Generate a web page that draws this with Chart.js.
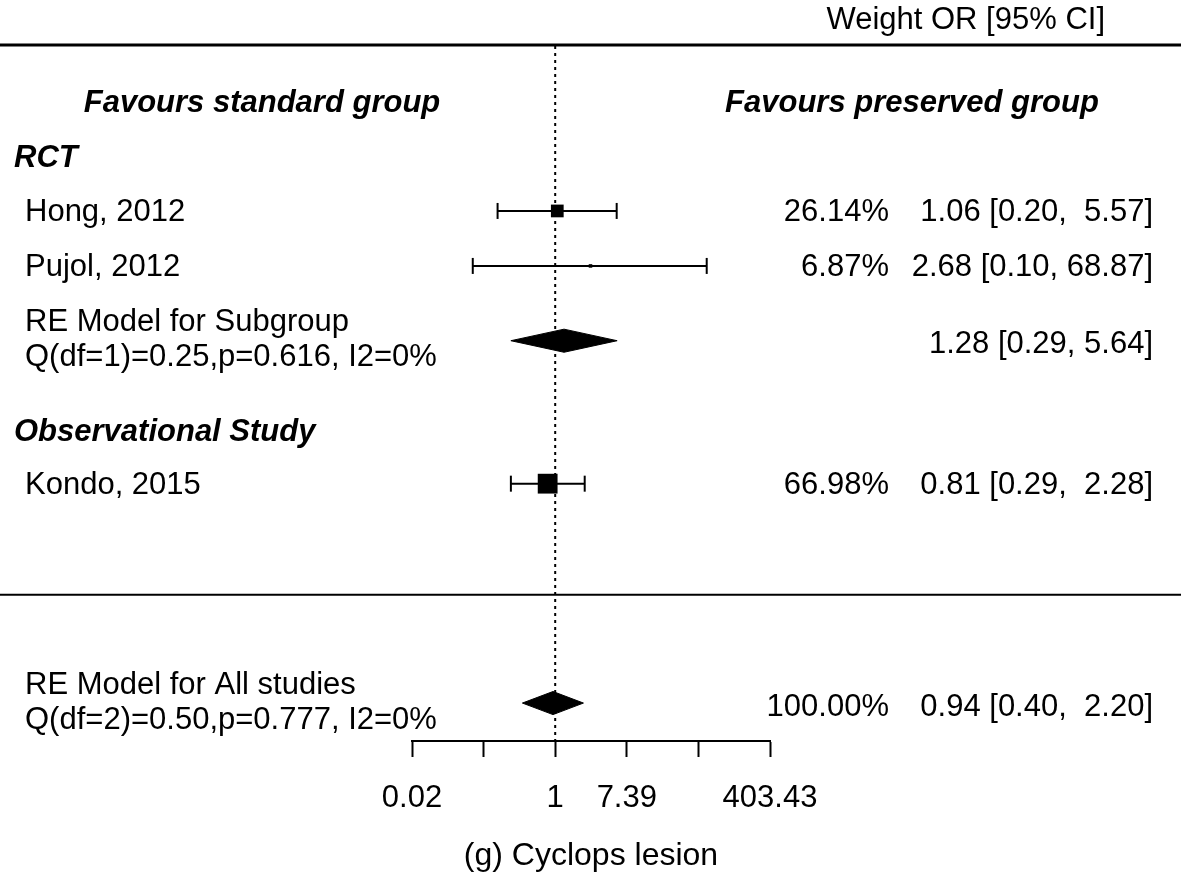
<!DOCTYPE html>
<html>
<head>
<meta charset="utf-8">
<script src="https://cdn.jsdelivr.net/npm/chart.js@4/dist/chart.umd.min.js"></script>
<style>
  body { margin: 0; background: #fff; }
  canvas { display: block; }
</style>
</head>
<body>
<canvas id="forest" width="1181" height="873"></canvas>
<script>
// forest plot — (g) Cyclops lesion, odds ratios on log scale

// individual studies
const studyLabels  = ['Hong, 2012', 'Pujol, 2012', 'Kondo, 2015']
const studyRows    = [3, 4, 7.96]
const studyOR      = [1.06, 2.68, 0.81]
const studyLo      = [0.20, 0.10, 0.29]
const studyHi      = [5.57, 68.87, 2.28]
const studyWeights = ['26.14%', '6.87%', '66.98%']
const studyCI      = ['1.06 [0.20,  5.57]', '2.68 [0.10, 68.87]', '0.81 [0.29,  2.28]']
const studySquare  = [9, 2.5, 14]

// pooled estimates
const poolLabels  = [['RE Model for Subgroup', 'Q(df=1)=0.25,p=0.616, I2=0%'],
                     ['RE Model for All studies', 'Q(df=2)=0.50,p=0.777, I2=0%']]
const poolRows    = [5.36, 11.95]
const poolOR      = [1.28, 0.94]
const poolLo      = [0.29, 0.40]
const poolHi      = [5.64, 2.20]
const poolWeights = ['', '100.00%']
const poolCI      = ['1.28 [0.29, 5.64]', '0.94 [0.40,  2.20]']

// subgroup headings
const groupLabels = ['RCT', 'Observational Study']
const groupRows   = [2, 7]

// x axis (natural log of OR)
const tickValues = [-4, -2, 0, 2, 4, 6]
const tickLabels = ['0.02', '', '1', '7.39', '', '403.43']

const ROW_MAX = 12.64
const SEP_ROWS = [0, 9.98]
const ln = Math.log
const FONT = 'Liberation Sans'
const TXT_DY = 2

Chart.defaults.font.family = FONT
Chart.defaults.color = '#000'

const datasets = []

// CI whiskers
studyRows.forEach((r, i) => {
  datasets.push({
    type: 'line',
    data: [{ x: ln(studyLo[i]), y: r }, { x: ln(studyHi[i]), y: r }],
    borderColor: '#000',
    borderWidth: 2,
    pointStyle: 'line',
    rotation: 90,
    pointRadius: 8,
    pointBorderWidth: 2,
    pointBorderColor: '#000',
  })
})

// squares
datasets.push({
  type: 'scatter',
  data: studyRows.map((r, i) => ({ x: ln(studyOR[i]), y: r })),
  pointStyle: 'rect',
  pointRadius: studySquare,
  backgroundColor: '#000',
  borderColor: '#000',
  borderWidth: 0,
})

// diamonds
poolRows.forEach((r, i) => {
  const h = 0.21
  datasets.push({
    type: 'line',
    data: [
      { x: ln(poolLo[i]), y: r },
      { x: ln(poolOR[i]), y: r - h },
      { x: ln(poolHi[i]), y: r },
      { x: ln(poolOR[i]), y: r + h },
      { x: ln(poolLo[i]), y: r },
    ],
    borderColor: '#000',
    borderWidth: 1,
    backgroundColor: '#000',
    fill: 'shape',
    pointRadius: 0,
    tension: 0,
  })
})

// null line
datasets.push({
  type: 'line',
  data: [{ x: 0, y: 0 }, { x: 0, y: ROW_MAX }],
  borderColor: '#000',
  borderWidth: 2,
  borderDash: [3, 4],
  pointRadius: 0,
})

const textPlugin = {
  id: 'forestText',
  afterDraw(chart) {
    const { ctx, scales: { y } } = chart
    const W = chart.width
    ctx.save()
    ctx.fillStyle = '#000'
    ctx.strokeStyle = '#000'

    // separator lines
    ctx.lineWidth = 3
    ctx.beginPath()
    ctx.moveTo(0, y.getPixelForValue(SEP_ROWS[0]) - 1)
    ctx.lineTo(W, y.getPixelForValue(SEP_ROWS[0]) - 1)
    ctx.stroke()
    ctx.lineWidth = 2
    ctx.beginPath()
    ctx.moveTo(0, y.getPixelForValue(SEP_ROWS[1]))
    ctx.lineTo(W, y.getPixelForValue(SEP_ROWS[1]))
    ctx.stroke()

    ctx.textBaseline = 'middle'
    ctx.font = `31px "${FONT}"`
    ctx.textAlign = 'right'
    ctx.fillText('Weight OR [95% CI]', 1105, 18 + TXT_DY)

    ctx.font = `italic bold 31px "${FONT}"`
    ctx.textAlign = 'center'
    ctx.fillText('Favours standard group', 262, y.getPixelForValue(1) + TXT_DY)
    ctx.fillText('Favours preserved group', 912, y.getPixelForValue(1) + TXT_DY)

    ctx.textAlign = 'left'
    groupLabels.forEach((g, i) => ctx.fillText(g, 14, y.getPixelForValue(groupRows[i]) + TXT_DY))

    ctx.font = `31px "${FONT}"`
    studyLabels.forEach((s, i) => {
      const py = y.getPixelForValue(studyRows[i]) + TXT_DY
      ctx.textAlign = 'left'
      ctx.fillText(s, 25, py)
      ctx.textAlign = 'right'
      ctx.fillText(studyWeights[i], 889, py)
      ctx.fillText(studyCI[i], 1153, py)
    })

    poolLabels.forEach((lines, i) => {
      const py = y.getPixelForValue(poolRows[i]) + TXT_DY
      ctx.textAlign = 'left'
      ctx.fillText(lines[0], 25, py - 20)
      ctx.fillText(lines[1], 25, py + 15)
      ctx.textAlign = 'right'
      ctx.fillText(poolWeights[i], 889, py + 2)
      ctx.fillText(poolCI[i], 1153, py + 2)
    })
    ctx.restore()
  },
}

new Chart(document.getElementById('forest'), {
  data: { datasets },
  options: {
    responsive: false,
    animation: false,
    layout: { padding: { left: 412, right: 411, top: 46, bottom: 0 } },
    plugins: { legend: { display: false }, tooltip: { enabled: false } },
    scales: {
      x: {
        type: 'linear',
        min: -4,
        max: 6,
        afterBuildTicks: axis => { axis.ticks = tickValues.map(v => ({ value: v })) },
        ticks: {
          callback: (v) => tickLabels[tickValues.indexOf(v)],
          font: { size: 31, lineHeight: 1 },
          color: '#000',
          padding: 26,
          maxRotation: 0,
          autoSkip: false,
        },
        grid: { drawOnChartArea: false, drawTicks: true, tickLength: 16, tickWidth: 2, color: '#000' },
        border: { display: true, color: '#000', width: 2 },
        title: {
          display: true,
          text: '(g) Cyclops lesion',
          font: { size: 32, lineHeight: 1 },
          color: '#000',
          padding: { top: 0, bottom: 1 },
        },
      },
      y: { type: 'linear', min: 0, max: ROW_MAX, reverse: true, display: false },
    },
  },
  plugins: [textPlugin],
})
</script>
</body>
</html>
